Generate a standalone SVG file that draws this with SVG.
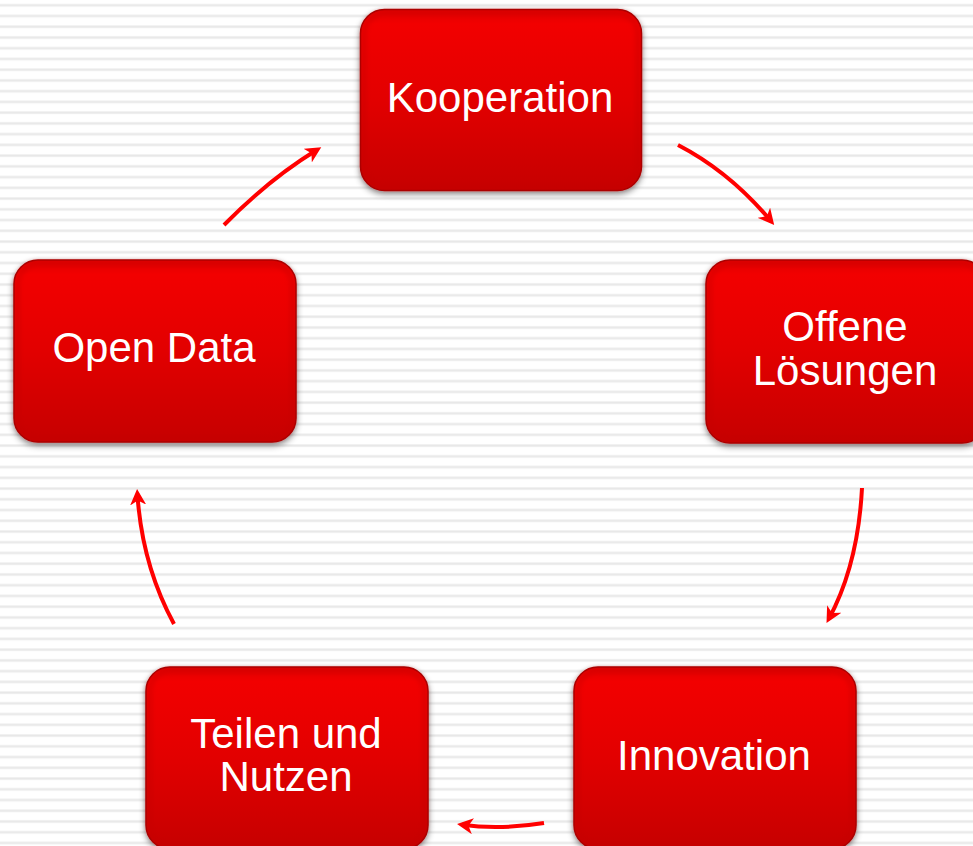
<svg xmlns="http://www.w3.org/2000/svg" width="973" height="846" viewBox="0 0 973 846">
<defs>
<style>
.box{fill:url(#gRed);stroke:#a80000;stroke-width:1.5;filter:url(#shadow)}
.edge{fill:none;stroke:#c40000;stroke-width:6;opacity:0.35;filter:url(#soft)}
.lbl{font-family:"Liberation Sans",Arial,sans-serif;font-size:42px;fill:#ffffff;text-anchor:middle}
.conn{fill:none;stroke:#ff0000;stroke-width:4;marker-end:url(#arr)}
</style>
<pattern id="stripes" patternUnits="userSpaceOnUse" x="0" y="3.7" width="20" height="10.74">
<rect x="0" y="0" width="20" height="10.74" fill="#ffffff"/>
<rect x="0" y="0" width="20" height="3" fill="#f1f1f1"/>
<rect x="0" y="1" width="20" height="1.2" fill="#e8e8e8"/>
</pattern>
<linearGradient id="gRed" x1="0" y1="0" x2="0" y2="1">
<stop offset="0" stop-color="#e00000"/>
<stop offset="0.08" stop-color="#f20606"/>
<stop offset="0.5" stop-color="#e20000"/>
<stop offset="1" stop-color="#c60000"/>
</linearGradient>
<filter id="shadow" x="-10%" y="-10%" width="120%" height="125%">
<feGaussianBlur in="SourceAlpha" stdDeviation="3"/>
<feOffset dx="0" dy="3" result="b"/>
<feFlood flood-color="#000000" flood-opacity="0.45"/>
<feComposite in2="b" operator="in" result="s"/>
<feMerge><feMergeNode in="s"/><feMergeNode in="SourceGraphic"/></feMerge>
</filter>
<filter id="soft"><feGaussianBlur stdDeviation="2"/></filter>
<marker id="arr" markerUnits="userSpaceOnUse" markerWidth="17" markerHeight="16" refX="11" refY="8" orient="auto">
<path d="M0,0 L16,8 L0,16 L4.5,8 z" fill="#ff0000"/>
</marker>
</defs>
<rect x="0" y="0" width="973" height="846" fill="url(#stripes)"/>

<g id="connectors">
<path class="conn" d="M224,225 Q268,180 317,149.8"/>
<path class="conn" d="M678,145 Q730,172 771,221.2"/>
<path class="conn" d="M862,488 Q858,565 828.9,618.7"/>
<path class="conn" d="M544,823 Q500,830 462,824.8"/>
<path class="conn" d="M174,624 Q142,565 137.4,494"/>
</g>

<g id="node-kooperation">
<rect class="box" x="360.5" y="9.5" width="281" height="181" rx="24"/>
<rect class="edge" x="364" y="13" width="274" height="174" rx="21"/>
<text class="lbl" x="500" y="112">Kooperation</text>
</g>
<g id="node-offene-loesungen">
<rect class="box" x="706" y="260" width="280" height="183" rx="24"/>
<rect class="edge" x="709.5" y="263.5" width="273" height="176" rx="21"/>
<text class="lbl" x="845" y="341">Offene</text>
<text class="lbl" x="845" y="385">Lösungen</text>
</g>
<g id="node-innovation">
<rect class="box" x="574" y="667" width="282" height="182" rx="24"/>
<rect class="edge" x="577.5" y="670.5" width="275" height="175" rx="21"/>
<text class="lbl" x="714" y="770">Innovation</text>
</g>
<g id="node-teilen-und-nutzen">
<rect class="box" x="146" y="667" width="282" height="182" rx="24"/>
<rect class="edge" x="149.5" y="670.5" width="275" height="175" rx="21"/>
<text class="lbl" x="286" y="748">Teilen und</text>
<text class="lbl" x="286" y="791">Nutzen</text>
</g>
<g id="node-open-data">
<rect class="box" x="14" y="260" width="282" height="182" rx="24"/>
<rect class="edge" x="17.5" y="263.5" width="275" height="175" rx="21"/>
<text class="lbl" x="154" y="362">Open Data</text>
</g>
</svg>
